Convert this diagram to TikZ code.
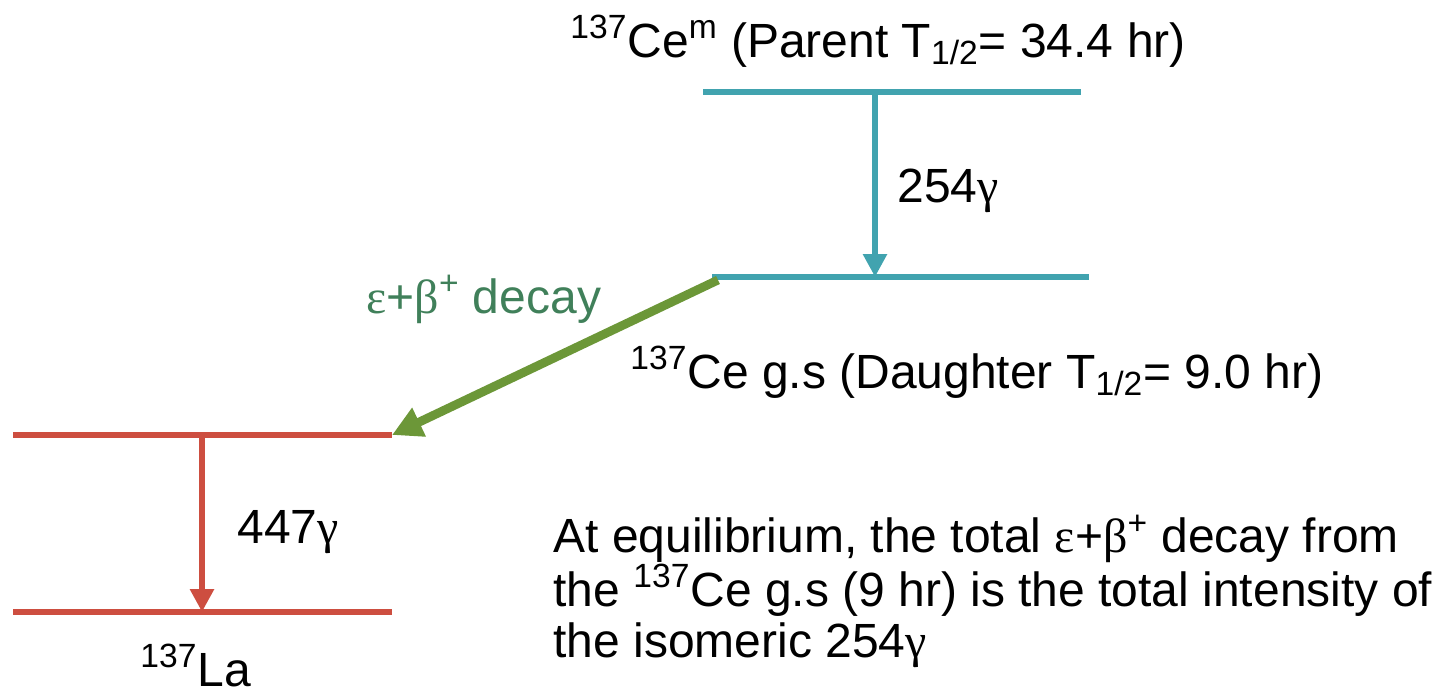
\documentclass[tikz,border=0pt]{standalone}
\usepackage{fontspec}
\setmainfont{Liberation Sans}
\newfontfamily\grk{Liberation Serif}
\usetikzlibrary{positioning, arrows.meta}

\definecolor{isoteal}{HTML}{41A3AF}
\definecolor{lared}{HTML}{CD4E40}
\definecolor{ecgreen}{HTML}{6C9738}
\definecolor{ectext}{HTML}{40805A}

\begin{document}
\begin{tikzpicture}[
    x=0.5pt, y=-0.5pt,
    every node/.style={font=\fontsize{24}{25.5}\selectfont, inner sep=0pt},
    lev/.style={line width=2.6pt},
    gam/.style={-{Triangle[length=11.5pt, width=11.5pt]}, line width=3.4pt},
    decay/.style={-{Triangle[length=15pt, width=15pt]}, line width=4.4pt, ecgreen},
    lbl/.style={anchor=base west},
  ]
    \useasboundingbox (0,0) rectangle (1439,696);

    % levels
    \coordinate (parentL) at (703,92);
    \coordinate (parentR) at (1081,92);
    \coordinate (daughterL) at (712,277);
    \coordinate (daughterR) at (1089,277);
    \coordinate (laTopL) at (13,435);
    \coordinate (laTopR) at (392,435);
    \coordinate (laGsL) at (13,612);
    \coordinate (laGsR) at (392,612);
    \draw[lev, isoteal] (parentL) -- (parentR);
    \draw[lev, isoteal] (daughterL) -- (daughterR);
    \draw[lev, lared] (laTopL) -- (laTopR);
    \draw[lev, lared] (laGsL) -- (laGsR);

    % transitions
    \coordinate (g254) at (875,92);
    \coordinate (g447) at (202,435);
    \coordinate (ecStart) at (718,280);
    \draw[gam, isoteal] (g254) -- (g254 |- daughterL);
    \draw[gam, lared] (g447) -- (g447 |- laGsL);
    \draw[decay] (ecStart) -- (laTopR);

    % labels
    \node[lbl] (parent) at (570,57)
      {\textsuperscript{137}Ce\textsuperscript{m} (Parent T\textsubscript{1/2}= 34.4 hr)};
    \node[lbl] (daughter) at (630,388)
      {\textsuperscript{137}Ce g.s (Daughter T\textsubscript{1/2}= 9.0 hr)};
    \node[lbl] (la) at (140,686) {\textsuperscript{137}La};
    \node[lbl] (e254) at (897,202) {254{\grk γ}};
    \node[lbl] (e447) at (237,543) {447{\grk γ}};
    \node[lbl, ectext] (ec) at (366,313) {{\grk ε}+{\grk β}\textsuperscript{+} decay};
    \node[lbl, align=left] (note) at (553,657)
      {At equilibrium, the total {\grk ε}+{\grk β}\textsuperscript{+} decay from\\
       the \textsuperscript{137}Ce g.s (9 hr) is the total intensity of\\
       the isomeric 254{\grk γ}};
\end{tikzpicture}
\end{document}
